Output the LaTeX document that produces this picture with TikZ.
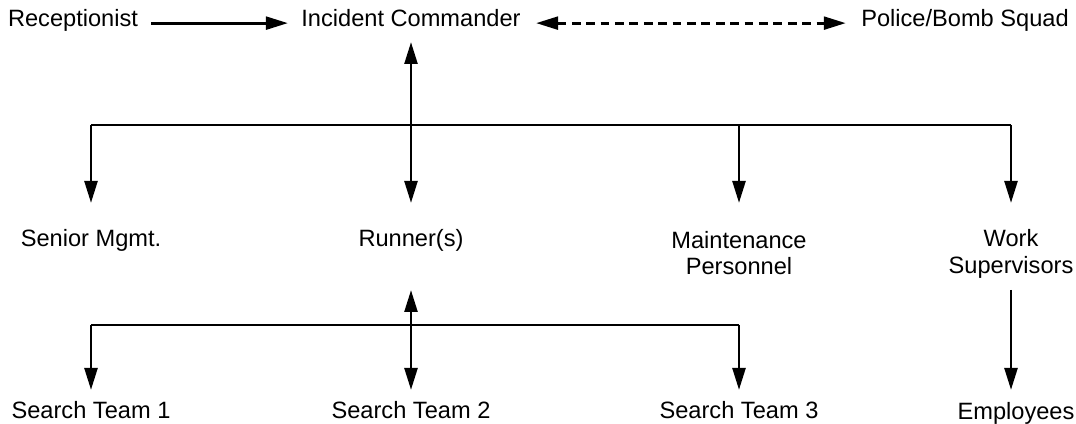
\documentclass[tikz,border=0pt]{standalone}
\usepackage{fontspec}
\setmainfont{Liberation Sans}
\usetikzlibrary{arrows.meta}
\begin{document}
\begin{tikzpicture}[font=\fontsize{16.8}{19}\selectfont, line join=round, >={Triangle[length=0.55cm,width=0.32cm]}, line width=2.1pt,
	lbl/.style={inner sep=0pt, anchor=base, text height=0.75em, text depth=0.2em},
	lbltwo/.style={inner sep=0pt, align=center}]
			\useasboundingbox (0,0) rectangle (26.9,10.6);
			% top row
			\node[lbl] (rec) at (1.825,9.925) {Receptionist};
			\node[lbl] (ic) at (10.275,9.925) {Incident Commander};
			\node[lbl] (pol) at (24.125,9.925) {Police/Bomb Squad};
			% second row
			\node[lbl] (sen) at (2.275,4.425) {Senior Mgmt.};
			\node[lbl] (run) at (10.275,4.425) {Runner(s)};
			\node[lbltwo] (mnt) at (18.475,4.275) {Maintenance\\Personnel};
			\node[lbltwo] (wrk) at (25.275,4.25) {Work\\Supervisors};
			% bottom row
			\node[lbl] (st1) at (2.275,0.125) {Search Team 1};
			\node[lbl] (st2) at (10.275,0.125) {Search Team 2};
			\node[lbl] (st3) at (18.475,0.125) {Search Team 3};
			\node[lbl] (emp) at (25.4,0.1) {Employees};
			% levels
			\coordinate (icTip) at (0,9.55);
			\coordinate (bus1) at (0,7.475);
			\coordinate (tip1) at (0,5.525);
			\coordinate (upTip) at (0,3.35);
			\coordinate (bus2) at (0,2.475);
			\coordinate (tip2) at (0,0.85);
			% arrows
			\draw[->,shorten <=0.3cm,shorten >=0.3cm] (rec.east) -- (ic.west);
			\draw[<->,dash pattern=on 0.22cm off 0.14cm,shorten <=0.35cm,shorten >=0.35cm] (ic.east) -- (pol.west);
			\draw[<->] (ic |- icTip) -- (run |- tip1);
			\draw (sen |- bus1) -- (wrk |- bus1);
			\draw[->] (sen |- bus1) -- (sen |- tip1);
			\draw[->] (mnt |- bus1) -- (mnt |- tip1);
			\draw[->] (wrk |- bus1) -- (wrk |- tip1);
			\draw (st1 |- bus2) -- (st3 |- bus2);
			\draw[<->] (run |- upTip) -- (st2 |- tip2);
			\draw[->] (st1 |- bus2) -- (st1 |- tip2);
			\draw[->] (st3 |- bus2) -- (st3 |- tip2);
			\draw[->] (wrk |- upTip) -- (wrk |- tip2);
		\end{tikzpicture}
\end{document}
